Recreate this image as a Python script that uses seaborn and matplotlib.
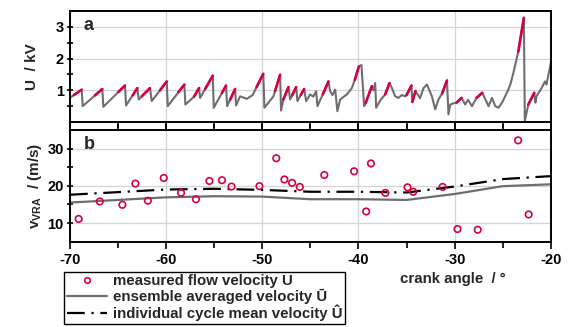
import numpy as np
import pandas as pd
import matplotlib
matplotlib.use('Agg')
import matplotlib.pyplot as plt
import seaborn as sns
from matplotlib.lines import Line2D

# Panel a: Spannungssignal (Kurbelwinkel / kV)
u_angle = [-70.0, -68.78, -68.68, -66.64, -66.53, -64.28, -64.17, -63.0, -62.85, -61.68,
           -61.5, -59.94, -59.83, -58.11, -58.0, -57.1, -56.58, -56.47, -55.15, -55.05,
           -53.77, -53.66, -52.83, -52.73, -52.31, -51.61, -51.0, -50.6, -49.9, -49.78,
           -48.84, -48.15, -48.05, -47.81, -47.28, -47.11, -46.48, -46.35, -45.65, -45.44,
           -45.03, -44.7, -44.4, -44.27, -43.71, -43.12, -42.95, -42.7, -42.42, -42.19,
           -41.9, -41.21, -40.69, -40.38, -39.96, -39.69, -39.41, -39.25, -38.61, -38.45,
           -38.26, -38.16, -37.7, -37.22, -36.77, -36.52, -36.18, -35.84, -35.5, -35.14,
           -35.0, -34.49, -34.4, -34.07, -33.6, -33.24, -32.88, -32.36, -32.02, -31.68,
           -31.3, -30.8, -30.64, -30.46, -30.0, -29.8, -29.28, -28.9, -28.6, -28.2,
           -27.72, -27.13, -26.47, -26.12, -25.78, -25.43, -25.0, -24.42, -24.21, -23.9,
           -23.38, -22.8, -22.7, -22.34, -21.72, -21.6, -21.48, -20.96, -20.6, -20.45,
           -19.93]
u_kv = [0.76, 1.02, 0.50, 1.04, 0.48, 1.15, 0.52, 1.07, 0.71, 1.07,
        0.66, 1.28, 0.50, 1.18, 0.55, 0.80, 1.07, 0.76, 1.46, 0.45,
        1.15, 0.50, 1.04, 0.52, 0.81, 0.73, 0.85, 1.10, 1.52, 0.45,
        0.81, 1.49, 0.36, 0.71, 1.10, 0.71, 1.10, 0.66, 1.04, 0.66,
        0.87, 0.80, 0.97, 0.50, 0.87, 1.28, 0.97, 0.85, 1.02, 0.34,
        0.71, 0.87, 1.07, 1.33, 1.75, 1.80, 0.50, 0.60, 1.13, 1.00,
        1.23, 0.45, 0.70, 0.87, 1.23, 1.07, 0.81, 0.76, 0.85, 0.81,
        0.85, 1.15, 0.63, 0.98, 0.75, 1.07, 1.18, 0.81, 0.40, 0.71,
        0.90, 1.31, 0.24, 0.55, 0.60, 0.61, 0.76, 0.55, 0.70, 0.50,
        0.76, 0.92, 0.50, 0.76, 0.50, 0.45, 0.65, 1.02, 1.18, 1.54,
        2.22, 3.29, 0.03, 0.55, 0.92, 0.61, 0.81, 1.07, 1.28, 1.18,
        1.96]

# rote Abschnitte (Messfenster)
red_x0 = [-69.6, -67.4, -64.97, -63.48, -62.54, -60.63, -58.73, -57.1, -55.95, -54.21,
          -53.35, -50.6, -48.67, -47.81, -46.9, -46.0, -43.71, -40.38, -39.25, -37.22,
          -35.0, -34.4, -31.3, -29.8, -27.72, -23.38, -22.34]
red_y0 = [0.85, 0.84, 0.95, 0.84, 0.81, 1.0, 0.94, 0.80, 1.04, 0.91,
          0.70, 1.10, 0.98, 0.71, 0.84, 0.85, 0.87, 1.33, 0.60, 0.87,
          0.85, 0.63, 0.90, 0.61, 0.76, 2.22, 0.55]
red_x1 = [-68.78, -66.64, -64.28, -63.0, -61.68, -59.94, -58.11, -56.58, -55.15, -53.77,
          -52.83, -49.9, -48.15, -47.28, -46.48, -45.65, -43.12, -39.96, -38.61, -36.77,
          -34.49, -34.07, -30.8, -29.28, -27.13, -22.8, -21.72]
red_y1 = [1.02, 1.04, 1.15, 1.07, 1.07, 1.28, 1.18, 1.07, 1.46, 1.15,
          1.04, 1.52, 1.49, 1.10, 1.10, 1.04, 1.28, 1.75, 1.13, 1.23,
          1.15, 0.98, 1.31, 0.76, 0.92, 3.29, 0.92]

# Panel b: Geschwindigkeiten
meas_angle = [-69.1, -66.9, -64.55, -63.2, -61.9, -60.25, -58.45, -56.9, -55.5, -54.2,
              -53.2, -50.3, -48.55, -47.7, -46.9, -46.1, -43.55, -40.45, -39.2, -38.7,
              -37.2, -34.9, -34.3, -31.25, -29.7, -27.6, -23.4, -22.3]
meas_vel = [11.1, 15.8, 14.9, 20.6, 16.0, 22.1, 18.1, 16.4, 21.3, 21.5,
            19.8, 19.9, 27.4, 21.7, 20.8, 19.7, 22.9, 23.9, 13.1, 26.0,
            18.1, 19.6, 18.4, 19.7, 8.4, 8.2, 32.2, 12.3]

mean_angle = [-70, -65, -60, -55, -50, -45, -40, -35, -30, -25, -20]
ens_vel = [15.5, 16.2, 16.9, 17.2, 17.1, 16.4, 16.4, 16.2, 17.8, 19.9, 20.4]
cyc_vel = [17.6, 18.3, 19.0, 19.2, 18.9, 18.4, 18.4, 18.2, 19.8, 21.8, 22.6]

RED = '#d6003f'
GRAY = '#6e6e6e'
DASHDOT = (0, (8, 3, 1, 3))

sns.set_style('ticks')
plt.rcParams['font.family'] = ['Liberation Sans', 'DejaVu Sans']
plt.rcParams['font.weight'] = 'bold'
plt.rcParams['font.size'] = 10.5
plt.rcParams['axes.unicode_minus'] = False
plt.rcParams['mathtext.fontset'] = 'custom'
plt.rcParams['mathtext.rm'] = 'Liberation Sans:bold'
plt.rcParams['mathtext.it'] = 'Liberation Sans:bold'
plt.rcParams['mathtext.bf'] = 'Liberation Sans:bold'

fig = plt.figure(figsize=(5.69, 3.27), dpi=100)
ax1 = fig.add_axes([0.123, 0.627, 0.845, 0.339])
ax2 = fig.add_axes([0.123, 0.261, 0.845, 0.3416])

# --- a ---
sns.lineplot(x=u_angle, y=u_kv, sort=False, estimator=None, color=GRAY, lw=1.5, ax=ax1)
df_red = pd.DataFrame({
    'angle': red_x0 + red_x1,
    'kv': red_y0 + red_y1,
    'seg': list(range(len(red_x0))) * 2,
})
sns.lineplot(data=df_red, x='angle', y='kv', units='seg', estimator=None, sort=False,
             color=RED, lw=1.9, ax=ax1)
ax1.set_ylim(0, 3.5)
ax1.set_yticks([1, 2, 3])
ax1.set_yticks([0.5, 1.5, 2.5], minor=True)
ax1.set_ylabel('U  / kV', fontsize=11, fontweight='bold')
ax1.yaxis.set_label_coords(-0.064, 0.5)
ax1.text(0.028, 0.95, 'a', transform=ax1.transAxes, fontsize=13, fontweight='bold', va='top')

# --- b ---
sns.scatterplot(x=meas_angle, y=meas_vel, marker='o', s=22, facecolor='none',
                edgecolor=RED, linewidth=1.2, ax=ax2, zorder=3)
sns.lineplot(x=mean_angle, y=ens_vel, color=GRAY, lw=1.6, ax=ax2)
sns.lineplot(x=mean_angle, y=cyc_vel, color='black', lw=1.6, ax=ax2, linestyle=DASHDOT)
ax2.set_ylim(5, 35)
ax2.set_yticks([10, 20, 30])
ax2.set_yticks([15, 25], minor=True)
ax2.set_ylabel(r'v$_{\mathrm{VRA}}$  / (m/s)', fontsize=11, fontweight='bold')
ax2.yaxis.set_label_coords(-0.054, 0.5)
ax2.text(0.028, 0.95, 'b', transform=ax2.transAxes, fontsize=13, fontweight='bold', va='top')

for ax in (ax1, ax2):
    ax.set_xlim(-70, -20)
    ax.set_xticks([-70, -60, -50, -40, -30, -20])
    ax.set_xticks([-65, -55, -45, -35, -25], minor=True)
    ax.grid(True, which='major', color='#d4d4d4', lw=0.9)
    ax.set_axisbelow(True)
    for sp in ax.spines.values():
        sp.set_visible(True)
        sp.set_linewidth(1.4)
        sp.set_color('black')
    ax.tick_params(which='both', direction='inout', width=1.2, colors='black',
                   labelsize=10.5, pad=2)
    ax.tick_params(which='major', length=5)
    ax.tick_params(which='minor', length=4)
    for lab in ax.get_yticklabels() + ax.get_xticklabels():
        lab.set_fontweight('bold')

ax1.tick_params(axis='x', labelbottom=False, direction='out', length=5)
ax1.tick_params(axis='x', which='minor', direction='out', length=4)
ax2.tick_params(axis='x', top=True, direction='out', pad=3)
ax2.tick_params(axis='x', which='minor', top=True, direction='out')

fig.text(0.888, 0.147, 'crank angle  / \u00b0', fontsize=10.8, fontweight='bold',
         ha='right', va='center')

handles = [
    Line2D([], [], ls='none', marker='o', ms=4, mfc='none', mec=RED, mew=1.2),
    Line2D([], [], color=GRAY, lw=1.6),
    Line2D([], [], color='black', lw=1.6, linestyle=DASHDOT),
]
labels = ['measured flow velocity U', 'ensemble averaged velocity \u016a',
          'individual cycle mean velocity \u00db']
leg = fig.legend(handles, labels, loc='upper left', bbox_to_anchor=(0.113, 0.168),
                 frameon=True, fancybox=False, edgecolor='black', framealpha=1,
                 fontsize=10.8, handlelength=2.7, handletextpad=0.4, labelspacing=0.05,
                 borderpad=0.15, borderaxespad=0)
leg.get_frame().set_linewidth(1.0)
for t in leg.get_texts():
    t.set_fontweight('bold')

fig.savefig('out.png', dpi=100)
